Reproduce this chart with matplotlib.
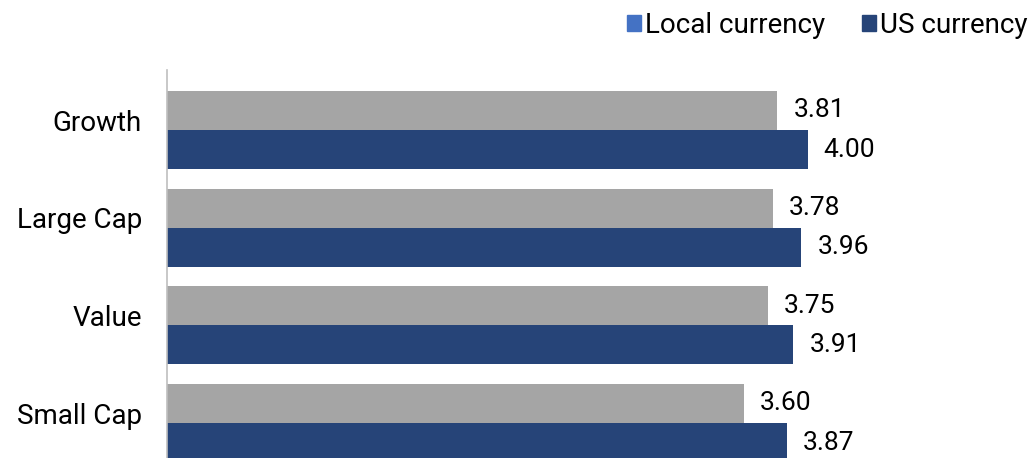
import matplotlib.pyplot as plt
from matplotlib.patches import Patch

categories = ["Growth", "Large Cap", "Value", "Small Cap"]
local_values = [3.81, 3.78, 3.75, 3.60]
us_values = [4.00, 3.96, 3.91, 3.87]
legend_labels = ["Local currency", "US currency"]

plt.rcParams["font.family"] = ["Roboto", "DejaVu Sans"]

GRAY = "#A5A5A5"
NAVY = "#264478"
LEGEND_BLUE = "#4472C4"

fig = plt.figure(figsize=(10.34, 4.58), dpi=100)
ax = fig.add_axes([167 / 1034, -25 / 458, (1000 - 167) / 1034, 413 / 458])

n = len(categories)
pos = [n - 1 - i for i in range(n)]
h = 0.4
ax.barh([p + h / 2 for p in pos], local_values, height=h, color=GRAY)
ax.barh([p - h / 2 for p in pos], us_values, height=h, color=NAVY)

for p, v in zip(pos, local_values):
    ax.text(v + 0.1, p + h / 2, f"{v:.2f}", va="center", ha="left", fontsize=19)
for p, v in zip(pos, us_values):
    ax.text(v + 0.1, p - h / 2, f"{v:.2f}", va="center", ha="left", fontsize=19)

ax.set_xlim(0, 5.2)
ax.set_ylim(-0.614, n - 1 + 0.614)
ax.set_yticks([p + 0.1 for p in pos])
ax.set_yticklabels(categories, fontsize=20)
ax.tick_params(axis="y", length=0, pad=18)
ax.set_xticks([])
for s in ["top", "right", "bottom"]:
    ax.spines[s].set_visible(False)
ax.spines["left"].set_color("#BFBFBF")
ax.spines["left"].set_linewidth(1.2)

handles = [Patch(color=LEGEND_BLUE), Patch(color=NAVY)]
fig.legend(handles, legend_labels, loc="center right", bbox_to_anchor=(1.018, 0.945),
           ncol=2, frameon=False, fontsize=20, handlelength=0.5, handleheight=0.5,
           handletextpad=0.15, columnspacing=1.32)

fig.savefig("out.png", dpi=100)
